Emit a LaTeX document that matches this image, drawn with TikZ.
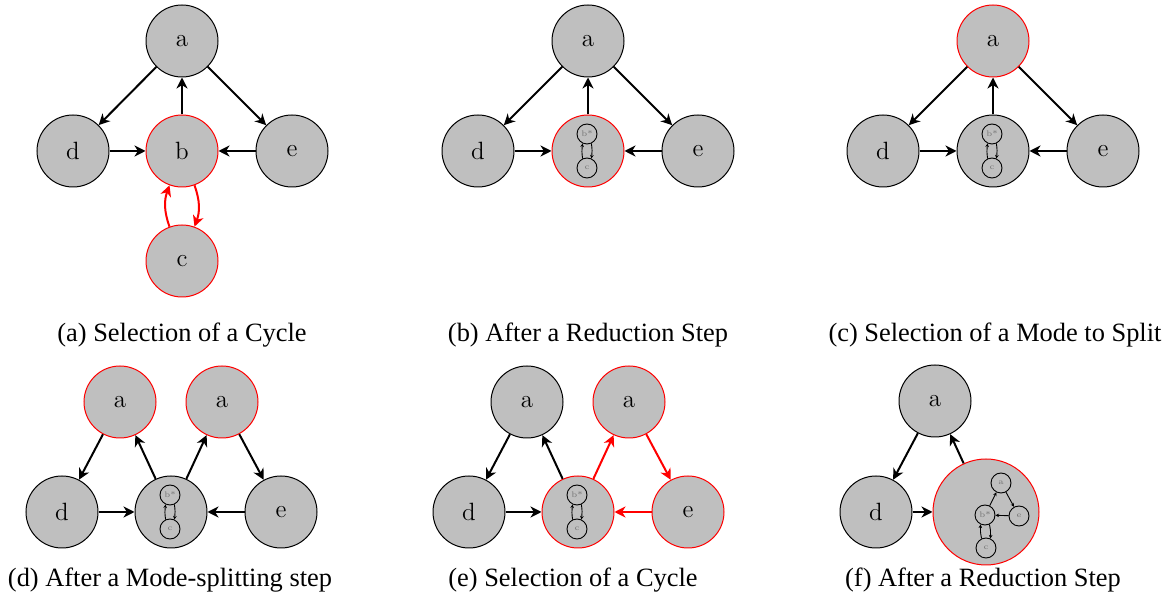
\documentclass[tikz,border=0pt]{standalone}
\usepackage{fontspec}
\newfontfamily\capfont{Liberation Serif}
\usetikzlibrary{arrows.meta}
\begin{document}
\begin{tikzpicture}[x=0.5pt,y=-0.5pt,
  vtx/.style={circle, draw=black, fill=gray!50, line width=0.5pt, minimum size=36pt, inner sep=0pt, font=\fontsize{12.5}{14}\selectfont},
  sel/.style={draw=red},
  bigv/.style={minimum size=53pt},
  mini/.style={circle, draw=black, line width=0.45pt, minimum size=10pt, inner sep=0pt, font=\fontsize{4}{5}\selectfont, text=black!55},
  arr/.style={line width=1pt, -{Stealth[length=5.5pt,width=5.5pt,inset=1.7pt]}},
  rarr/.style={arr, draw=red},
  marr/.style={line width=0.45pt, -{Stealth[length=1.8pt,width=1.8pt]}},
  captext/.style={font=\capfont\fontsize{13.2}{15}\selectfont}
]
\useasboundingbox (0,0) rectangle (1169,598);

% ---------- (a)
\node[vtx] (Aa) at (182,41) {a};
\node[vtx] (Ad) at (73,151) {d};
\node[vtx,sel] (Ab) at (182,151) {b};
\node[vtx] (Ae) at (292,151) {e};
\node[vtx,sel] (Ac) at (182,261) {c};
\draw[arr] (Aa) -- (Ad);
\draw[arr] (Aa) -- (Ae);
\draw[arr] (Ab) -- (Aa);
\draw[arr] (Ad) -- (Ab);
\draw[arr] (Ae) -- (Ab);
\draw[rarr] (Ac) to[bend left=20] (Ab);
\draw[rarr] (Ab) to[bend left=20] (Ac);
\node[captext] (Acap) at (182,335) {(a) Selection of a Cycle};

% ---------- (b)
\node[vtx] (Ba) at (588,41) {a};
\node[vtx] (Bd) at (478,151) {d};
\node[vtx,sel] (Bb) at (588,151) {};
\node[vtx] (Be) at (698,151) {e};
\node[mini] (Bbs) at (587,134) {b*};
\node[mini] (Bc) at (587,168) {c};
\draw[marr] (Bc.115) to[bend left=8] (Bbs.245);
\draw[marr] (Bbs.295) to[bend left=8] (Bc.65);
\draw[arr] (Ba) -- (Bd);
\draw[arr] (Ba) -- (Be);
\draw[arr] (Bb) -- (Ba);
\draw[arr] (Bd) -- (Bb);
\draw[arr] (Be) -- (Bb);
\node[captext] (Bcap) at (588,335) {(b) After a Reduction Step};

% ---------- (c)
\node[vtx,sel] (Ca) at (993,41) {a};
\node[vtx] (Cd) at (883,151) {d};
\node[vtx] (Cb) at (993,151) {};
\node[vtx] (Ce) at (1103,151) {e};
\node[mini] (Cbs) at (992,134) {b*};
\node[mini] (Cc) at (992,168) {c};
\draw[marr] (Cc.115) to[bend left=8] (Cbs.245);
\draw[marr] (Cbs.295) to[bend left=8] (Cc.65);
\draw[arr] (Ca) -- (Cd);
\draw[arr] (Ca) -- (Ce);
\draw[arr] (Cb) -- (Ca);
\draw[arr] (Cd) -- (Cb);
\draw[arr] (Ce) -- (Cb);
\node[captext] (Ccap) at (995,335) {(c) Selection of a Mode to Split};

% ---------- (d)
\node[vtx,sel] (Da1) at (120,402) {a};
\node[vtx,sel] (Da2) at (222,402) {a};
\node[vtx] (Dd) at (62,512) {d};
\node[vtx] (Db) at (171,512) {};
\node[vtx] (De) at (281,512) {e};
\node[mini] (Dbs) at (170,495) {b*};
\node[mini] (Dc) at (170,529) {c};
\draw[marr] (Dc.115) to[bend left=8] (Dbs.245);
\draw[marr] (Dbs.295) to[bend left=8] (Dc.65);
\draw[arr] (Da1) -- (Dd);
\draw[arr] (Db) -- (Da1);
\draw[arr] (Db) -- (Da2);
\draw[arr] (Da2) -- (De);
\draw[arr] (Dd) -- (Db);
\draw[arr] (De) -- (Db);
\node[captext] (Dcap) at (170,580) {(d) After a Mode-splitting step};

% ---------- (e)
\node[vtx] (Ea1) at (527,402) {a};
\node[vtx,sel] (Ea2) at (629,402) {a};
\node[vtx] (Ed) at (469,512) {d};
\node[vtx,sel] (Eb) at (578,512) {};
\node[vtx,sel] (Ee) at (688,512) {e};
\node[mini] (Ebs) at (577,495) {b*};
\node[mini] (Ec) at (577,529) {c};
\draw[marr] (Ec.115) to[bend left=8] (Ebs.245);
\draw[marr] (Ebs.295) to[bend left=8] (Ec.65);
\draw[arr] (Ea1) -- (Ed);
\draw[arr] (Eb) -- (Ea1);
\draw[arr] (Ed) -- (Eb);
\draw[rarr] (Eb) -- (Ea2);
\draw[rarr] (Ea2) -- (Ee);
\draw[rarr] (Ee) -- (Eb);
\node[captext] (Ecap) at (573,580) {(e) Selection of a Cycle};

% ---------- (f)
\node[vtx] (Fa) at (935,401) {a};
\node[vtx] (Fd) at (876,512) {d};
\node[vtx,sel,bigv] (Fb) at (986,512) {};
\node[mini] (Fia) at (1001,483) {a};
\node[mini] (Fie) at (1019,516) {e};
\node[mini] (Fibs) at (985,515) {b*};
\node[mini] (Fic) at (986,548) {c};
\draw[marr] (Fibs) -- (Fia);
\draw[marr] (Fia) -- (Fie);
\draw[marr] (Fie) -- (Fibs);
\draw[marr] (Fic.115) to[bend left=8] (Fibs.245);
\draw[marr] (Fibs.295) to[bend left=8] (Fic.65);
\draw[arr] (Fa) -- (Fd);
\draw[arr] (Fb) -- (Fa);
\draw[arr] (Fd) -- (Fb);
\node[captext] (Fcap) at (983,580) {(f) After a Reduction Step};
\end{tikzpicture}
\end{document}
